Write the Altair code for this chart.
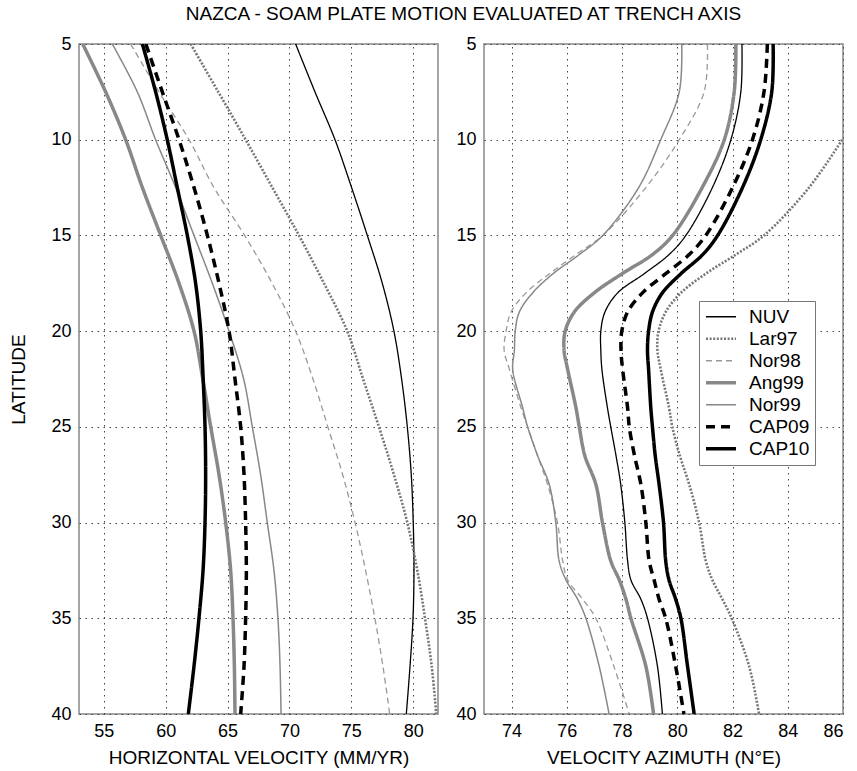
import altair as alt
import pandas as pd

SERIES = ["NUV", "Lar97", "Nor98", "Ang99", "Nor99", "CAP09", "CAP10"]
COLORS = ["#000000", "#777777", "#999999", "#888888", "#888888", "#000000", "#000000"]
DASHES = [[1, 0], [2, 1.6], [6, 4], [1, 0], [1, 0], [9, 6], [1, 0]]
WIDTHS = [1.3, 2.6, 1.3, 3.5, 1.5, 3.5, 3.5]

# Left panel: horizontal velocity (mm/yr) vs latitude
LAT_L = [5, 7.5, 10, 12.5, 15, 17.5, 20, 22.5, 25, 27.5, 30, 32.5, 35, 37.5, 40]
VEL_NUV = [70.5, 72.06, 73.68, 75.02, 76.29, 77.5, 78.44, 79.06, 79.52, 79.84, 80.0, 80.06, 79.98, 79.74, 79.44]
VEL_LAR97 = [62.02, 64.25, 66.46, 68.62, 70.77, 72.79, 74.67, 75.95, 77.23, 78.44, 79.52, 80.33, 80.95, 81.49, 81.86]
VEL_NOR98 = [57.17, 59.46, 61.89, 63.9, 66.38, 68.6, 70.5, 71.9, 73.1, 74.3, 75.3, 76.15, 76.9, 77.55, 78.1]
VEL_ANG99 = [53.3, 55.15, 56.77, 58.12, 59.6, 61.08, 62.29, 63.0, 63.64, 64.31, 64.85, 65.25, 65.44, 65.55, 65.6]
VEL_NOR99 = [55.69, 57.71, 59.19, 60.81, 62.29, 63.77, 65.12, 66.3, 67.0, 67.67, 68.21, 68.75, 69.07, 69.24, 69.32]
VEL_CAP09 = [58.4, 59.73, 61.08, 62.29, 63.37, 64.31, 65.12, 65.6, 66.06, 66.33, 66.46, 66.52, 66.46, 66.33, 66.06]
VEL_CAP10 = [58.12, 59.19, 60.13, 60.94, 61.75, 62.42, 62.83, 63.03, 63.18, 63.23, 63.18, 63.02, 62.69, 62.29, 61.83]

# Right panel: velocity azimuth (deg E) vs latitude
LAT_R = [5, 7.5, 10, 12.5, 15, 16, 17, 18, 19, 20, 21, 22, 24, 25, 26.5, 28, 30, 32, 33, 34, 35, 37.5, 40]
AZ_NUV = [82.34, 82.3, 81.94, 81.27, 80.31, 79.7, 78.8, 77.84, 77.38, 77.23, 77.23, 77.27, 77.47, 77.59, 77.78, 77.95, 78.1, 78.2, 78.32, 78.68, 78.92, 79.28, 79.46]
AZ_LAR97 = [None, None, 85.97, 84.77, 83.14, 82.12, 81.03, 80.13, 79.58, 79.32, 79.28, 79.4, 79.7, 79.82, 80.09, 80.43, 80.79, 81.03, 81.27, 81.63, 81.97, 82.6, 82.96]
AZ_NOR98 = [81.09, 80.97, 80.07, 78.86, 77.3, 76.33, 75.37, 74.52, 73.98, 73.8, 73.73, 73.92, 74.34, 74.58, 74.94, 75.3, 75.66, 75.85, 76.03, 76.57, 77.05, 77.7, 78.26]
AZ_ANG99 = [82.12, 82.06, 81.7, 80.9, 79.83, 79.1, 78.0, 76.99, 76.27, 75.94, 75.9, 76.03, 76.33, 76.45, 76.65, 77.05, 77.29, 77.59, 77.9, 78.14, 78.32, 78.86, 79.14]
AZ_NOR99 = [80.16, 80.07, 79.4, 78.6, 77.3, 76.45, 75.5, 74.76, 74.28, 74.13, 74.1, 74.04, 74.4, 74.58, 74.94, 75.36, 75.6, 75.72, 75.97, 76.39, 76.69, 77.17, 77.53]
AZ_CAP09 = [83.26, 83.14, 82.72, 82.0, 81.03, 80.43, 79.58, 78.74, 78.2, 77.99, 77.96, 78.02, 78.2, 78.26, 78.45, 78.68, 78.86, 78.98, 79.16, 79.34, 79.58, 79.94, 80.24]
AZ_CAP10 = [83.47, 83.42, 83.02, 82.36, 81.46, 80.92, 80.13, 79.46, 79.1, 78.96, 78.92, 78.96, 79.04, 79.1, 79.2, 79.34, 79.5, 79.58, 79.7, 79.94, 80.13, 80.37, 80.61]

LAT_TICKS = [5, 10, 15, 20, 25, 30, 35, 40]
VEL_TICKS = [55, 60, 65, 70, 75, 80]
AZ_TICKS = [74, 76, 78, 80, 82, 84, 86]

FONT = "Liberation Sans"


def build(lats, series_lists):
    rows = []
    for name, vals in zip(SERIES, series_lists):
        for i, (la, v) in enumerate(zip(lats, vals)):
            if v is not None:
                rows.append({"series": name, "lat": la, "value": v, "idx": i})
    return pd.DataFrame(rows)


df_l = build(LAT_L, [VEL_NUV, VEL_LAR97, VEL_NOR98, VEL_ANG99, VEL_NOR99, VEL_CAP09, VEL_CAP10])
df_r = build(LAT_R, [AZ_NUV, AZ_LAR97, AZ_NOR98, AZ_ANG99, AZ_NOR99, AZ_CAP09, AZ_CAP10])

W, H = 359, 670


def enc_channels(legend):
    return dict(
        color=alt.Color("series:N", scale=alt.Scale(type="ordinal", domain=SERIES, range=COLORS), legend=legend),
        strokeDash=alt.StrokeDash("series:N", scale=alt.Scale(type="ordinal", domain=SERIES, range=DASHES), legend=legend),
        strokeWidth=alt.StrokeWidth("series:N", scale=alt.Scale(type="ordinal", domain=SERIES, range=WIDTHS), legend=legend),
    )


y_left = alt.Y("lat:Q", scale=alt.Scale(domain=[5, 40], reverse=True, nice=False, zero=False),
               axis=alt.Axis(values=LAT_TICKS, title="LATITUDE", titlePadding=22))
y_right = alt.Y("lat:Q", scale=alt.Scale(domain=[5, 40], reverse=True, nice=False, zero=False),
                axis=alt.Axis(values=LAT_TICKS, title=None))

left = alt.Chart(df_l).mark_line(clip=True, interpolate="catmull-rom", strokeCap="butt").encode(
    x=alt.X("value:Q", scale=alt.Scale(domain=[53, 82], nice=False, zero=False),
            axis=alt.Axis(values=VEL_TICKS, title="HORIZONTAL VELOCITY (MM/YR)")),
    y=y_left,
    order="idx:Q",
    **enc_channels(None),
).properties(width=W, height=H)

leg = alt.Legend(title=None, orient="none", legendX=215, legendY=257, fillColor="white",
                 strokeColor="#777777", padding=5, symbolType="stroke", symbolSize=900,
                 labelFontSize=19, labelFont=FONT, labelColor="black", rowPadding=0,
                 labelOffset=11, clipHeight=21.5)

right = alt.Chart(df_r).mark_line(clip=True, interpolate="catmull-rom", strokeCap="butt").encode(
    x=alt.X("value:Q", scale=alt.Scale(domain=[73, 86], nice=False, zero=False),
            axis=alt.Axis(values=AZ_TICKS, title="VELOCITY AZIMUTH (N°E)")),
    y=y_right,
    order="idx:Q",
    **enc_channels(leg),
).properties(width=W, height=H)

chart = alt.hconcat(left, right, spacing=16).resolve_scale(
    color="independent", strokeDash="independent", strokeWidth="independent"
).resolve_legend(
    color="independent", strokeDash="independent", strokeWidth="independent"
).properties(
    title=alt.TitleParams("NAZCA - SOAM PLATE MOTION EVALUATED AT TRENCH AXIS", font=FONT, fontSize=19,
                          fontWeight="normal", anchor="middle", dx=37, offset=10, color="black"),
    padding={"left": 9, "top": 5, "right": 10, "bottom": 5},
    background="white",
).configure_view(
    stroke="#888888", strokeWidth=1.5
).configure_axis(
    labelFont=FONT, labelFontSize=18, labelColor="black", labelPadding=8,
    titleFont=FONT, titleFontSize=19, titleFontWeight="normal", titleColor="black", titlePadding=8,
    ticks=False, domain=False, grid=True, gridColor="#444444", gridDash=[1.5, 4.5], gridWidth=1,
    gridOpacity=1,
)

chart.save("out.html", embed_options={"renderer": "svg", "actions": False})
